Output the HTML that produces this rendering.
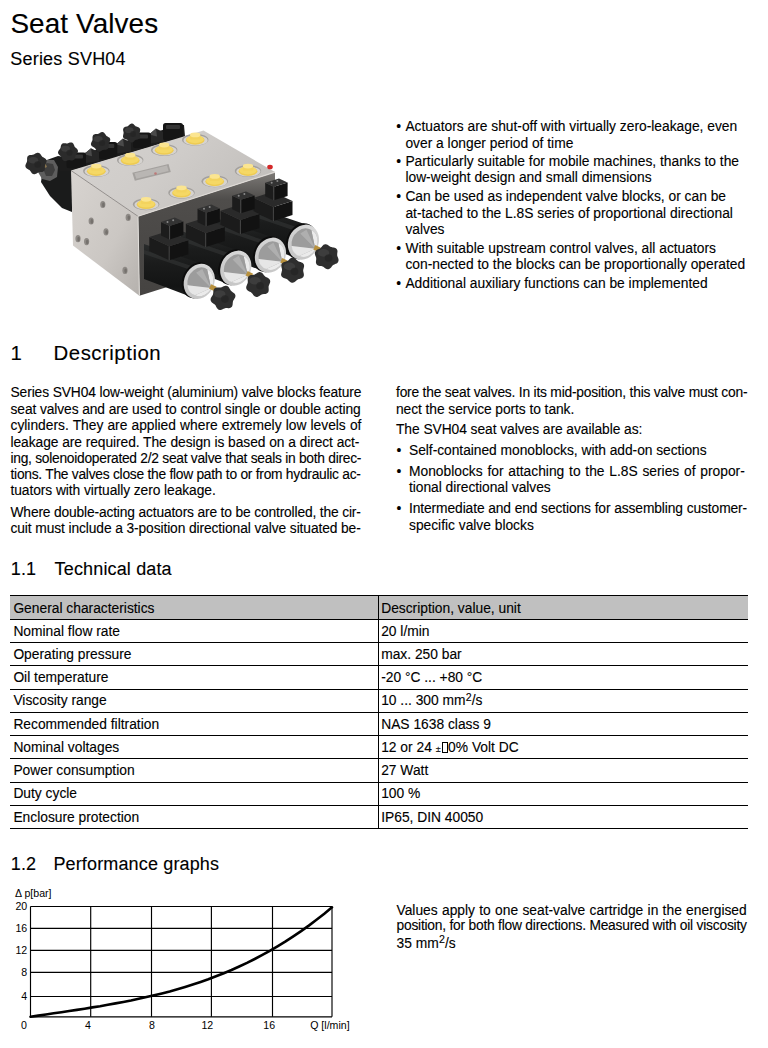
<!DOCTYPE html>
<html><head><meta charset="utf-8"><title>Seat Valves</title>
<style>
html,body{margin:0;padding:0;background:#fff;}
body{width:768px;height:1048px;position:relative;overflow:hidden;font-family:"Liberation Sans",sans-serif;color:#000;}
.l{position:absolute;white-space:nowrap;-webkit-text-stroke:0.12px #000;}
.sp{font-size:10.6px;line-height:0;vertical-align:4.6px;letter-spacing:0;margin-left:0.3px;}
.pm{font-size:9px;-webkit-text-stroke:0.1px #000;}
.bx{display:inline-block;width:4px;height:9px;border:1px solid #000;vertical-align:-1px;margin:0 0.5px 0 1px;-webkit-text-stroke:0;}
.hdr{position:absolute;background:#c0c0c0;}
.hl{position:absolute;height:1px;background:#000;}
.vl{position:absolute;width:1px;background:#000;}
</style></head><body>
<svg style="position:absolute;left:0;top:0" width="400" height="340">
<defs>
<linearGradient id="gTop" x1="0" y1="0" x2="1" y2="0.4"><stop offset="0" stop-color="#d6d3d0"/><stop offset="0.55" stop-color="#cfccc9"/><stop offset="1" stop-color="#c3c0bd"/></linearGradient>
<linearGradient id="gLeft" x1="0" y1="0" x2="1" y2="1"><stop offset="0" stop-color="#d8d4d0"/><stop offset="0.6" stop-color="#cbc7c3"/><stop offset="1" stop-color="#b5b1ad"/></linearGradient>
<linearGradient id="gFront" x1="0" y1="0" x2="0" y2="1"><stop offset="0" stop-color="#7d7a77"/><stop offset="0.22" stop-color="#4f4d4b"/><stop offset="1" stop-color="#454341"/></linearGradient>
<linearGradient id="gCoil" x1="0" y1="0" x2="0" y2="1"><stop offset="0" stop-color="#2a2c2c"/><stop offset="0.35" stop-color="#1b1c1c"/><stop offset="0.8" stop-color="#131414"/><stop offset="1" stop-color="#1e1f1f"/></linearGradient>
<linearGradient id="gCone" x1="0" y1="0" x2="0" y2="1"><stop offset="0" stop-color="#b0b0b0"/><stop offset="0.45" stop-color="#7a7a7a"/><stop offset="0.55" stop-color="#d8d8d8"/><stop offset="1" stop-color="#ececec"/></linearGradient>
<linearGradient id="gRing" x1="0" y1="0" x2="0" y2="1"><stop offset="0" stop-color="#d8d8d8"/><stop offset="1" stop-color="#c6c6c6"/></linearGradient>
<linearGradient id="gEnd" x1="0" y1="0" x2="1" y2="1"><stop offset="0" stop-color="#8a8a8a"/><stop offset="1" stop-color="#4a4a4a"/></linearGradient>
</defs>
<polygon points="44.0,161.0 58.0,156.0 72.0,158.0 72.0,212.0 62.0,208.0 50.0,196.0 41.0,182.0" fill="#1a1b1b"/>
<polygon points="38.0,165.0 45.0,160.0 54.0,160.0 58.0,167.0 57.0,177.0 50.0,181.0 42.0,179.0 38.0,172.0" fill="#5e5e5e"/>
<polygon points="42.0,166.0 47.0,163.0 53.0,164.0 55.0,170.0 52.0,176.0 46.0,176.0" fill="#3e3e3e"/>
<polygon points="35.0,160.0 43.0,158.0 47.0,167.0 40.0,170.0" fill="#8a7650"/>
<polygon points="45.9,163.5 45.6,164.1 45.3,164.7 45.1,165.3 44.9,165.9 44.9,166.5 44.9,167.2 44.9,167.9 44.9,168.7 44.8,169.4 44.6,170.1 44.3,170.7 43.8,171.3 43.1,171.6 42.4,171.9 41.7,172.0 41.0,172.1 40.2,172.1 39.6,172.2 39.0,172.3 38.4,172.4 37.8,172.7 37.3,173.1 36.7,173.5 36.0,173.8 35.3,174.1 34.6,174.3 33.9,174.3 33.2,174.1 32.5,173.8 31.9,173.3 31.5,172.7 31.0,172.1 30.7,171.5 30.3,170.9 29.9,170.5 29.5,170.0 28.9,169.7 28.3,169.4 27.7,169.0 27.1,168.7 26.5,168.2 26.0,167.7 25.6,167.0 25.4,166.3 25.4,165.6 25.5,164.9 25.8,164.2 26.1,163.5 26.4,162.9 26.7,162.3 26.9,161.7 27.1,161.1 27.1,160.5 27.1,159.8 27.1,159.1 27.1,158.3 27.2,157.6 27.4,156.9 27.7,156.3 28.2,155.7 28.9,155.4 29.6,155.1 30.3,155.0 31.0,154.9 31.8,154.9 32.4,154.8 33.0,154.7 33.6,154.6 34.2,154.3 34.7,153.9 35.3,153.5 36.0,153.2 36.7,152.9 37.4,152.7 38.1,152.7 38.8,152.9 39.5,153.2 40.1,153.7 40.5,154.3 41.0,154.9 41.3,155.5 41.7,156.1 42.1,156.5 42.5,157.0 43.1,157.3 43.7,157.6 44.3,158.0 44.9,158.3 45.5,158.8 46.0,159.3 46.4,160.0 46.6,160.7 46.6,161.4 46.5,162.1 46.2,162.8" fill="#2b2b2b"/>
<ellipse cx="33.2" cy="160.2" rx="5.0" ry="3.3" fill="#505050" opacity="0.45"/>
<circle cx="37.6" cy="164.6" r="3.3" fill="#242424" opacity="0.7"/>
<polygon points="60.0,171.0 60.0,158.0 90.0,151.8 180.0,124.7 184.0,125.0 185.0,136.6 71.0,171.0" fill="#1c1c1c"/>
<polygon points="84.0,154.2 91.0,148.2 99.0,152.2 99.0,161.2 84.0,163.2" fill="#262626"/>
<polygon points="84.0,154.2 91.0,148.2 92.0,156.2" fill="#4a4a4a"/>
<polygon points="116.0,144.5 123.0,138.5 131.0,142.5 131.0,151.5 116.0,153.5" fill="#262626"/>
<polygon points="116.0,144.5 123.0,138.5 124.0,146.5" fill="#4a4a4a"/>
<polygon points="149.0,134.6 156.0,128.6 164.0,132.6 164.0,141.6 149.0,143.6" fill="#262626"/>
<polygon points="149.0,134.6 156.0,128.6 157.0,136.6" fill="#4a4a4a"/>
<rect x="66.5" y="152.5" width="19.5" height="15.7" rx="2.5" fill="#151515"/>
<rect x="69.5" y="154.5" width="13.5" height="4" rx="1" fill="#3c3c3c" opacity="0.8"/>
<rect x="99" y="142" width="18.3" height="17.0" rx="2.5" fill="#151515"/>
<rect x="102" y="144" width="12.3" height="4" rx="1" fill="#3c3c3c" opacity="0.8"/>
<rect x="133" y="132.4" width="18.0" height="15.6" rx="2.5" fill="#151515"/>
<rect x="136" y="134.4" width="12.0" height="4" rx="1" fill="#3c3c3c" opacity="0.8"/>
<rect x="163" y="122.9" width="20.0" height="17.6" rx="2.5" fill="#151515"/>
<rect x="166" y="124.9" width="14.0" height="4" rx="1" fill="#3c3c3c" opacity="0.8"/>
<polygon points="77.9,151.8 77.6,152.4 77.3,153.0 76.9,153.6 76.5,154.1 76.1,154.5 75.8,155.0 75.5,155.5 75.4,156.1 75.3,156.7 75.2,157.3 75.0,158.0 74.8,158.6 74.5,159.2 74.1,159.7 73.5,160.1 72.9,160.3 72.3,160.4 71.6,160.4 70.9,160.4 70.3,160.3 69.7,160.2 69.1,160.1 68.6,160.2 68.0,160.3 67.4,160.5 66.8,160.8 66.2,161.0 65.5,161.1 64.8,161.1 64.2,161.0 63.6,160.8 63.1,160.3 62.6,159.8 62.3,159.2 62.0,158.6 61.8,158.0 61.6,157.4 61.3,156.9 61.0,156.5 60.6,156.1 60.1,155.7 59.6,155.3 59.1,154.8 58.7,154.3 58.3,153.7 58.1,153.1 58.0,152.5 58.1,151.8 58.4,151.2 58.7,150.6 59.1,150.0 59.5,149.5 59.9,149.1 60.2,148.6 60.5,148.1 60.6,147.5 60.7,146.9 60.8,146.3 61.0,145.6 61.2,145.0 61.5,144.4 61.9,143.9 62.5,143.5 63.1,143.3 63.7,143.2 64.4,143.2 65.1,143.2 65.7,143.3 66.3,143.4 66.9,143.5 67.4,143.4 68.0,143.3 68.6,143.1 69.2,142.8 69.8,142.6 70.5,142.5 71.2,142.5 71.8,142.6 72.4,142.8 72.9,143.3 73.4,143.8 73.7,144.4 74.0,145.0 74.2,145.6 74.4,146.2 74.7,146.7 75.0,147.1 75.4,147.5 75.9,147.9 76.4,148.3 76.9,148.8 77.3,149.3 77.7,149.9 77.9,150.5 78.0,151.1" fill="#2b2b2b"/>
<ellipse cx="65.5" cy="148.8" rx="4.5" ry="3.0" fill="#505050" opacity="0.45"/>
<circle cx="69.5" cy="152.8" r="3.0" fill="#242424" opacity="0.7"/>
<polygon points="109.6,141.9 109.3,142.5 109.0,143.0 108.8,143.5 108.7,144.1 108.7,144.6 108.7,145.3 108.7,145.9 108.7,146.6 108.6,147.3 108.4,147.9 108.1,148.5 107.7,149.0 107.1,149.3 106.5,149.5 105.8,149.7 105.1,149.7 104.5,149.7 103.9,149.8 103.3,149.9 102.8,150.0 102.3,150.3 101.7,150.6 101.2,151.0 100.6,151.3 100.0,151.5 99.3,151.7 98.7,151.7 98.0,151.5 97.4,151.2 96.9,150.8 96.5,150.3 96.1,149.7 95.7,149.2 95.4,148.7 95.1,148.2 94.6,147.9 94.2,147.5 93.6,147.2 93.1,146.9 92.5,146.6 91.9,146.2 91.5,145.7 91.1,145.1 91.0,144.5 90.9,143.8 91.1,143.2 91.3,142.5 91.6,141.9 91.9,141.3 92.2,140.8 92.4,140.3 92.5,139.7 92.5,139.2 92.5,138.5 92.5,137.9 92.5,137.2 92.6,136.5 92.8,135.9 93.1,135.3 93.5,134.8 94.1,134.5 94.7,134.3 95.4,134.1 96.1,134.1 96.7,134.1 97.3,134.0 97.9,133.9 98.4,133.8 98.9,133.5 99.5,133.2 100.0,132.8 100.6,132.5 101.2,132.3 101.9,132.1 102.5,132.1 103.2,132.3 103.8,132.6 104.3,133.0 104.7,133.5 105.1,134.1 105.5,134.6 105.8,135.1 106.1,135.6 106.6,135.9 107.0,136.3 107.6,136.6 108.1,136.9 108.7,137.2 109.3,137.6 109.7,138.1 110.1,138.7 110.2,139.3 110.3,140.0 110.1,140.6 109.9,141.3" fill="#2b2b2b"/>
<ellipse cx="98.1" cy="138.9" rx="4.5" ry="3.0" fill="#505050" opacity="0.45"/>
<circle cx="102.1" cy="142.9" r="3.0" fill="#242424" opacity="0.7"/>
<polygon points="139.6,133.1 139.6,133.6 139.7,134.2 139.8,134.7 139.9,135.3 140.1,136.0 140.1,136.6 140.0,137.3 139.8,137.8 139.5,138.4 139.0,138.8 138.5,139.1 137.9,139.4 137.2,139.5 136.6,139.7 136.1,139.8 135.6,140.0 135.1,140.3 134.7,140.6 134.3,141.0 133.8,141.4 133.3,141.9 132.8,142.2 132.2,142.5 131.6,142.6 131.0,142.6 130.4,142.4 129.8,142.1 129.3,141.6 128.9,141.2 128.4,140.8 128.0,140.4 127.6,140.0 127.2,139.8 126.6,139.6 126.1,139.4 125.5,139.2 124.9,139.0 124.3,138.7 123.8,138.3 123.4,137.8 123.1,137.3 123.0,136.7 123.0,136.0 123.1,135.4 123.2,134.8 123.4,134.2 123.5,133.6 123.6,133.1 123.6,132.6 123.5,132.0 123.4,131.5 123.3,130.9 123.1,130.2 123.1,129.6 123.2,128.9 123.4,128.4 123.7,127.8 124.2,127.4 124.7,127.1 125.3,126.8 126.0,126.7 126.6,126.5 127.1,126.4 127.6,126.2 128.1,125.9 128.5,125.6 128.9,125.2 129.4,124.8 129.9,124.3 130.4,124.0 131.0,123.7 131.6,123.6 132.2,123.6 132.8,123.8 133.4,124.1 133.9,124.6 134.3,125.0 134.8,125.4 135.2,125.8 135.6,126.2 136.0,126.4 136.6,126.6 137.1,126.8 137.7,127.0 138.3,127.2 138.9,127.5 139.4,127.9 139.8,128.4 140.1,128.9 140.2,129.5 140.2,130.2 140.1,130.8 140.0,131.4 139.8,132.0 139.7,132.6" fill="#2b2b2b"/>
<ellipse cx="129.2" cy="130.2" rx="4.3" ry="2.9" fill="#505050" opacity="0.45"/>
<circle cx="133.0" cy="134.0" r="2.9" fill="#242424" opacity="0.7"/>
<polygon points="138.0,216.3 275.0,172.1 275.0,253.0 139.4,295.7" fill="url(#gFront)"/>
<polygon points="71.0,170.5 138.0,216.3 139.4,295.7 73.0,245.6" fill="url(#gLeft)"/>
<polygon points="71.0,170.5 203.5,130.6 275.0,172.1 138.0,216.3" fill="url(#gTop)"/>
<line x1="71" y1="170.5" x2="138" y2="216.3" stroke="#8a8683" stroke-width="0.9"/>
<line x1="138" y1="216.3" x2="275" y2="172.1" stroke="#dedad6" stroke-width="1.2"/>
<line x1="138" y1="216.3" x2="139.4" y2="295.7" stroke="#e2dfdb" stroke-width="1"/>
<ellipse cx="102.8" cy="204.5" rx="2.6" ry="3.6" fill="#8e8a86"/>
<ellipse cx="103.39999999999999" cy="204.9" rx="1.3" ry="2.3" fill="#75716d"/>
<ellipse cx="91.2" cy="221" rx="2.6" ry="3.6" fill="#8e8a86"/>
<ellipse cx="91.8" cy="221.4" rx="1.3" ry="2.3" fill="#75716d"/>
<ellipse cx="128.2" cy="217.4" rx="2.6" ry="3.6" fill="#8e8a86"/>
<ellipse cx="128.79999999999998" cy="217.8" rx="1.3" ry="2.3" fill="#75716d"/>
<ellipse cx="106" cy="231.8" rx="2.6" ry="3.6" fill="#8e8a86"/>
<ellipse cx="106.6" cy="232.20000000000002" rx="1.3" ry="2.3" fill="#75716d"/>
<ellipse cx="78" cy="238.7" rx="2.6" ry="3.6" fill="#8e8a86"/>
<ellipse cx="78.6" cy="239.1" rx="1.3" ry="2.3" fill="#75716d"/>
<ellipse cx="86.6" cy="241.6" rx="2.6" ry="3.6" fill="#8e8a86"/>
<ellipse cx="87.19999999999999" cy="242.0" rx="1.3" ry="2.3" fill="#75716d"/>
<ellipse cx="125" cy="270.4" rx="2.6" ry="3.6" fill="#8e8a86"/>
<ellipse cx="125.6" cy="270.79999999999995" rx="1.3" ry="2.3" fill="#75716d"/>
<polygon points="132.3,172.8 168.5,164.0 170.8,172.0 134.8,180.8" fill="#a4a19e"/>
<polygon points="134.5,173.3 167.0,165.6 168.6,171.0 136.3,178.8" fill="#b9b6b3"/>
<circle cx="155.5" cy="173.5" r="1.3" fill="#c06060" opacity="0.7"/>
<ellipse cx="270" cy="167" rx="2.8" ry="2.3" fill="#d42828"/>
<ellipse cx="96.3" cy="171.0" rx="13.2" ry="6" fill="#a3a09d"/>
<ellipse cx="96.7" cy="171.6" rx="12" ry="5" fill="#d6d3d0"/>
<ellipse cx="96.3" cy="171.3" rx="9.4" ry="4.6" fill="#eecb52"/>
<ellipse cx="96.3" cy="170.5" rx="8.6" ry="3.9" fill="#f5d865"/>
<rect x="91.1" y="165.9" width="10.4" height="4.8" rx="1.5" fill="#f3d35e"/>
<ellipse cx="96.3" cy="166.1" rx="5.2" ry="2.4" fill="#fbe590"/>
<ellipse cx="130.2" cy="160.1" rx="13.2" ry="6" fill="#a3a09d"/>
<ellipse cx="130.6" cy="160.7" rx="12" ry="5" fill="#d6d3d0"/>
<ellipse cx="130.2" cy="160.4" rx="9.4" ry="4.6" fill="#eecb52"/>
<ellipse cx="130.2" cy="159.6" rx="8.6" ry="3.9" fill="#f5d865"/>
<rect x="125.0" y="155.0" width="10.4" height="4.8" rx="1.5" fill="#f3d35e"/>
<ellipse cx="130.2" cy="155.2" rx="5.2" ry="2.4" fill="#fbe590"/>
<ellipse cx="164.2" cy="149.9" rx="13.2" ry="6" fill="#a3a09d"/>
<ellipse cx="164.6" cy="150.5" rx="12" ry="5" fill="#d6d3d0"/>
<ellipse cx="164.2" cy="150.20000000000002" rx="9.4" ry="4.6" fill="#eecb52"/>
<ellipse cx="164.2" cy="149.4" rx="8.6" ry="3.9" fill="#f5d865"/>
<rect x="159.0" y="144.8" width="10.4" height="4.8" rx="1.5" fill="#f3d35e"/>
<ellipse cx="164.2" cy="145.0" rx="5.2" ry="2.4" fill="#fbe590"/>
<ellipse cx="195.2" cy="139.8" rx="13.2" ry="6" fill="#a3a09d"/>
<ellipse cx="195.6" cy="140.4" rx="12" ry="5" fill="#d6d3d0"/>
<ellipse cx="195.2" cy="140.10000000000002" rx="9.4" ry="4.6" fill="#eecb52"/>
<ellipse cx="195.2" cy="139.3" rx="8.6" ry="3.9" fill="#f5d865"/>
<rect x="190.0" y="134.7" width="10.4" height="4.8" rx="1.5" fill="#f3d35e"/>
<ellipse cx="195.2" cy="134.9" rx="5.2" ry="2.4" fill="#fbe590"/>
<ellipse cx="146.1" cy="204.2" rx="13.2" ry="6" fill="#a3a09d"/>
<ellipse cx="146.5" cy="204.79999999999998" rx="12" ry="5" fill="#d6d3d0"/>
<ellipse cx="146.1" cy="204.5" rx="9.4" ry="4.6" fill="#eecb52"/>
<ellipse cx="146.1" cy="203.7" rx="8.6" ry="3.9" fill="#f5d865"/>
<rect x="140.9" y="199.1" width="10.4" height="4.8" rx="1.5" fill="#f3d35e"/>
<ellipse cx="146.1" cy="199.3" rx="5.2" ry="2.4" fill="#fbe590"/>
<ellipse cx="181.5" cy="192.7" rx="13.2" ry="6" fill="#a3a09d"/>
<ellipse cx="181.9" cy="193.29999999999998" rx="12" ry="5" fill="#d6d3d0"/>
<ellipse cx="181.5" cy="193.0" rx="9.4" ry="4.6" fill="#eecb52"/>
<ellipse cx="181.5" cy="192.2" rx="8.6" ry="3.9" fill="#f5d865"/>
<rect x="176.3" y="187.6" width="10.4" height="4.8" rx="1.5" fill="#f3d35e"/>
<ellipse cx="181.5" cy="187.8" rx="5.2" ry="2.4" fill="#fbe590"/>
<ellipse cx="214.7" cy="181.3" rx="13.2" ry="6" fill="#a3a09d"/>
<ellipse cx="215.1" cy="181.9" rx="12" ry="5" fill="#d6d3d0"/>
<ellipse cx="214.7" cy="181.60000000000002" rx="9.4" ry="4.6" fill="#eecb52"/>
<ellipse cx="214.7" cy="180.8" rx="8.6" ry="3.9" fill="#f5d865"/>
<rect x="209.5" y="176.2" width="10.4" height="4.8" rx="1.5" fill="#f3d35e"/>
<ellipse cx="214.7" cy="176.4" rx="5.2" ry="2.4" fill="#fbe590"/>
<ellipse cx="248" cy="171.0" rx="13.2" ry="6" fill="#a3a09d"/>
<ellipse cx="248.4" cy="171.6" rx="12" ry="5" fill="#d6d3d0"/>
<ellipse cx="248" cy="171.3" rx="9.4" ry="4.6" fill="#eecb52"/>
<ellipse cx="248" cy="170.5" rx="8.6" ry="3.9" fill="#f5d865"/>
<rect x="242.8" y="165.9" width="10.4" height="4.8" rx="1.5" fill="#f3d35e"/>
<ellipse cx="248" cy="166.1" rx="5.2" ry="2.4" fill="#fbe590"/>
<polygon points="248.2,204.8 310.4,226.1 295.6,257.9 248.2,239.8" fill="url(#gCoil)"/>
<polygon points="248.2,210.8 308.4,231.1 307.4,235.1 248.2,214.8" fill="#343636" opacity="0.6"/>
<polygon points="253.5,197.8 273.4,207.1 273.4,221.1 253.5,211.8" fill="#1b1b1b"/>
<polygon points="273.4,207.1 292.5,201.0 292.5,215.0 273.4,221.1" fill="#121212"/>
<polygon points="253.5,197.8 272.5,191.7 292.5,201.0 273.4,207.1" fill="#2a2a2a"/>
<line x1="273.4" y1="207.1" x2="273.4" y2="221.1" stroke="#505050" stroke-width="0.8"/>
<polygon points="265.2,182.8 273.8,186.8 273.8,200.3 265.2,196.3" fill="#1c1c1c"/>
<polygon points="273.8,186.8 287.6,182.4 287.6,195.9 273.8,200.3" fill="#111111"/>
<polygon points="265.2,182.8 279.0,178.4 287.6,182.4 273.8,186.8" fill="#333333"/>
<line x1="273.8" y1="186.8" x2="273.8" y2="200.3" stroke="#5a5a5a" stroke-width="0.8"/>
<circle cx="271.7" cy="182.8" r="1" fill="#8a8a8a"/><circle cx="277.4" cy="181.0" r="1" fill="#8a8a8a"/>
<g transform="translate(303.0,242.0) rotate(25.0)"><ellipse cx="-2" cy="0" rx="14.5" ry="18.7" fill="#0c0c0c"/><ellipse cx="0.5" cy="0" rx="15" ry="18.1" fill="url(#gRing)"/><ellipse cx="2.5" cy="0" rx="11.8" ry="14.3" fill="#a6a6a6"/><path d="M2.5,-14.3 A11.8,14.3 0 0 1 2.5,14.3 L14,1 Z" fill="#ebebeb"/><path d="M2.5,-14.3 A11.8,14.3 0 0 0 -8.5,8.5 L14,1 Z" fill="#9c9c9c"/><path d="M-8.5,8.5 A11.8,14.3 0 0 0 2.5,14.3 L14,1 Z" fill="#e6e6e6"/><path d="M-2,-12.5 L14,1 L-6,-6.5 Z" fill="#b4b4b4" opacity="0.8"/><rect x="12.5" y="-2.4" width="6" height="4.8" fill="#b8913e"/></g>
<polygon points="337.6,256.7 337.9,257.4 338.2,258.2 338.4,259.0 338.6,259.9 338.5,260.7 338.3,261.5 337.9,262.2 337.4,262.9 336.7,263.4 335.9,263.8 335.1,264.1 334.4,264.4 333.7,264.7 333.1,265.1 332.6,265.6 332.1,266.1 331.6,266.7 331.1,267.4 330.5,268.0 329.9,268.6 329.1,269.0 328.3,269.2 327.5,269.2 326.7,269.0 325.9,268.7 325.2,268.2 324.5,267.7 323.9,267.2 323.3,266.8 322.6,266.5 322.0,266.3 321.3,266.1 320.5,266.0 319.7,265.9 318.8,265.7 318.0,265.4 317.3,265.0 316.7,264.4 316.3,263.7 316.0,262.9 315.9,262.0 316.0,261.1 316.1,260.3 316.2,259.5 316.2,258.8 316.2,258.1 316.1,257.4 315.8,256.7 315.5,256.0 315.2,255.2 315.0,254.4 314.8,253.5 314.9,252.7 315.1,251.9 315.5,251.2 316.0,250.5 316.7,250.0 317.5,249.6 318.3,249.3 319.0,249.0 319.7,248.7 320.3,248.3 320.8,247.8 321.3,247.3 321.8,246.7 322.3,246.0 322.9,245.4 323.5,244.8 324.3,244.4 325.1,244.2 325.9,244.2 326.7,244.4 327.5,244.7 328.2,245.2 328.9,245.7 329.5,246.2 330.1,246.6 330.8,246.9 331.4,247.1 332.1,247.3 332.9,247.4 333.7,247.5 334.6,247.7 335.4,248.0 336.1,248.4 336.7,249.0 337.1,249.7 337.4,250.5 337.5,251.4 337.4,252.3 337.3,253.1 337.2,253.9 337.2,254.6 337.2,255.3 337.3,256.0" fill="#2e2e2e"/>
<ellipse cx="323.6" cy="252.9" rx="5.7" ry="3.8" fill="#505050" opacity="0.45"/>
<circle cx="328.6" cy="258.0" r="3.8" fill="#242424" opacity="0.7"/>
<polygon points="215.2,217.8 277.4,239.1 262.6,270.9 215.2,252.8" fill="url(#gCoil)"/>
<polygon points="215.2,223.8 275.4,244.1 274.4,248.1 215.2,227.8" fill="#343636" opacity="0.6"/>
<polygon points="220.5,210.8 240.4,220.1 240.4,234.1 220.5,224.8" fill="#1b1b1b"/>
<polygon points="240.4,220.1 259.5,214.0 259.5,228.0 240.4,234.1" fill="#121212"/>
<polygon points="220.5,210.8 239.5,204.7 259.5,214.0 240.4,220.1" fill="#2a2a2a"/>
<line x1="240.4" y1="220.1" x2="240.4" y2="234.1" stroke="#505050" stroke-width="0.8"/>
<polygon points="232.2,195.8 240.8,199.8 240.8,213.3 232.2,209.3" fill="#1c1c1c"/>
<polygon points="240.8,199.8 254.6,195.4 254.6,208.9 240.8,213.3" fill="#111111"/>
<polygon points="232.2,195.8 246.0,191.4 254.6,195.4 240.8,199.8" fill="#333333"/>
<line x1="240.8" y1="199.8" x2="240.8" y2="213.3" stroke="#5a5a5a" stroke-width="0.8"/>
<circle cx="238.7" cy="195.8" r="1" fill="#8a8a8a"/><circle cx="244.4" cy="194.0" r="1" fill="#8a8a8a"/>
<g transform="translate(270.0,255.0) rotate(25.0)"><ellipse cx="-2" cy="0" rx="14.5" ry="18.7" fill="#0c0c0c"/><ellipse cx="0.5" cy="0" rx="15" ry="18.1" fill="url(#gRing)"/><ellipse cx="2.5" cy="0" rx="11.8" ry="14.3" fill="#a6a6a6"/><path d="M2.5,-14.3 A11.8,14.3 0 0 1 2.5,14.3 L14,1 Z" fill="#ebebeb"/><path d="M2.5,-14.3 A11.8,14.3 0 0 0 -8.5,8.5 L14,1 Z" fill="#9c9c9c"/><path d="M-8.5,8.5 A11.8,14.3 0 0 0 2.5,14.3 L14,1 Z" fill="#e6e6e6"/><path d="M-2,-12.5 L14,1 L-6,-6.5 Z" fill="#b4b4b4" opacity="0.8"/><rect x="12.5" y="-2.4" width="6" height="4.8" fill="#b8913e"/></g>
<polygon points="303.2,270.2 303.2,270.9 303.3,271.6 303.5,272.4 303.7,273.2 303.8,274.0 303.9,274.9 303.8,275.7 303.5,276.5 303.1,277.2 302.4,277.7 301.7,278.2 300.9,278.5 300.1,278.7 299.3,278.9 298.6,279.1 297.9,279.4 297.3,279.7 296.7,280.2 296.2,280.7 295.6,281.3 294.9,281.8 294.2,282.3 293.4,282.6 292.6,282.8 291.8,282.7 291.0,282.5 290.2,282.1 289.6,281.5 289.0,280.9 288.4,280.4 287.9,279.8 287.3,279.4 286.7,279.0 286.0,278.8 285.3,278.5 284.5,278.3 283.7,278.0 282.9,277.6 282.2,277.1 281.7,276.5 281.3,275.8 281.1,274.9 281.1,274.1 281.3,273.2 281.5,272.4 281.7,271.6 281.9,270.9 282.0,270.2 282.0,269.5 281.9,268.8 281.7,268.0 281.5,267.2 281.4,266.4 281.3,265.5 281.4,264.7 281.7,263.9 282.1,263.2 282.8,262.7 283.5,262.2 284.3,261.9 285.1,261.7 285.9,261.5 286.6,261.3 287.3,261.0 287.9,260.7 288.5,260.2 289.0,259.7 289.6,259.1 290.3,258.6 291.0,258.1 291.8,257.8 292.6,257.6 293.4,257.7 294.2,257.9 295.0,258.3 295.6,258.9 296.2,259.5 296.8,260.0 297.3,260.6 297.9,261.0 298.5,261.4 299.2,261.6 299.9,261.9 300.7,262.1 301.5,262.4 302.3,262.8 303.0,263.3 303.5,263.9 303.9,264.6 304.1,265.5 304.1,266.3 303.9,267.2 303.7,268.0 303.5,268.8 303.3,269.5" fill="#2e2e2e"/>
<ellipse cx="289.5" cy="266.4" rx="5.7" ry="3.8" fill="#505050" opacity="0.45"/>
<circle cx="294.5" cy="271.5" r="3.8" fill="#242424" opacity="0.7"/>
<polygon points="180.5,230.8 242.7,252.1 227.9,283.9 180.5,265.8" fill="url(#gCoil)"/>
<polygon points="180.5,236.8 240.7,257.1 239.7,261.1 180.5,240.8" fill="#343636" opacity="0.6"/>
<polygon points="185.8,223.8 205.7,233.1 205.7,247.1 185.8,237.8" fill="#1b1b1b"/>
<polygon points="205.7,233.1 224.8,227.0 224.8,241.0 205.7,247.1" fill="#121212"/>
<polygon points="185.8,223.8 204.8,217.7 224.8,227.0 205.7,233.1" fill="#2a2a2a"/>
<line x1="205.7" y1="233.1" x2="205.7" y2="247.1" stroke="#505050" stroke-width="0.8"/>
<polygon points="197.5,208.8 206.1,212.8 206.1,226.3 197.5,222.3" fill="#1c1c1c"/>
<polygon points="206.1,212.8 219.9,208.4 219.9,221.9 206.1,226.3" fill="#111111"/>
<polygon points="197.5,208.8 211.3,204.4 219.9,208.4 206.1,212.8" fill="#333333"/>
<line x1="206.1" y1="212.8" x2="206.1" y2="226.3" stroke="#5a5a5a" stroke-width="0.8"/>
<circle cx="204.0" cy="208.8" r="1" fill="#8a8a8a"/><circle cx="209.7" cy="207.0" r="1" fill="#8a8a8a"/>
<g transform="translate(235.3,268.0) rotate(25.0)"><ellipse cx="-2" cy="0" rx="14.5" ry="18.7" fill="#0c0c0c"/><ellipse cx="0.5" cy="0" rx="15" ry="18.1" fill="url(#gRing)"/><ellipse cx="2.5" cy="0" rx="11.8" ry="14.3" fill="#a6a6a6"/><path d="M2.5,-14.3 A11.8,14.3 0 0 1 2.5,14.3 L14,1 Z" fill="#ebebeb"/><path d="M2.5,-14.3 A11.8,14.3 0 0 0 -8.5,8.5 L14,1 Z" fill="#9c9c9c"/><path d="M-8.5,8.5 A11.8,14.3 0 0 0 2.5,14.3 L14,1 Z" fill="#e6e6e6"/><path d="M-2,-12.5 L14,1 L-6,-6.5 Z" fill="#b4b4b4" opacity="0.8"/><rect x="12.5" y="-2.4" width="6" height="4.8" fill="#b8913e"/></g>
<polygon points="269.3,284.5 269.0,285.2 268.7,285.9 268.6,286.6 268.6,287.3 268.6,288.0 268.7,288.8 268.7,289.7 268.7,290.6 268.5,291.4 268.2,292.2 267.7,292.8 267.0,293.3 266.2,293.7 265.4,293.9 264.6,294.0 263.7,294.1 263.0,294.2 262.3,294.3 261.6,294.5 261.0,294.9 260.3,295.3 259.7,295.7 259.0,296.2 258.2,296.6 257.4,296.9 256.6,297.0 255.7,296.8 255.0,296.5 254.3,296.1 253.7,295.4 253.1,294.8 252.7,294.1 252.2,293.5 251.7,292.9 251.2,292.5 250.6,292.1 249.9,291.7 249.2,291.4 248.4,291.0 247.7,290.6 247.1,290.0 246.6,289.3 246.3,288.5 246.2,287.7 246.2,286.9 246.5,286.0 246.8,285.2 247.1,284.5 247.4,283.8 247.7,283.1 247.8,282.4 247.8,281.7 247.8,281.0 247.7,280.2 247.7,279.3 247.7,278.4 247.9,277.6 248.2,276.8 248.7,276.2 249.4,275.7 250.2,275.3 251.0,275.1 251.8,275.0 252.7,274.9 253.4,274.8 254.1,274.7 254.8,274.5 255.4,274.1 256.1,273.7 256.7,273.3 257.4,272.8 258.2,272.4 259.0,272.1 259.8,272.0 260.7,272.2 261.4,272.5 262.1,272.9 262.7,273.6 263.3,274.2 263.7,274.9 264.2,275.5 264.7,276.1 265.2,276.5 265.8,276.9 266.5,277.3 267.2,277.6 268.0,278.0 268.7,278.4 269.3,279.0 269.8,279.7 270.1,280.5 270.2,281.3 270.2,282.1 269.9,283.0 269.6,283.8" fill="#2e2e2e"/>
<ellipse cx="255.0" cy="280.7" rx="5.7" ry="3.8" fill="#505050" opacity="0.45"/>
<circle cx="260.1" cy="285.8" r="3.8" fill="#242424" opacity="0.7"/>
<polygon points="144.0,244.0 206.2,265.3 191.4,297.1 144.0,279.0" fill="url(#gCoil)"/>
<polygon points="144.0,250.0 204.2,270.3 203.2,274.3 144.0,254.0" fill="#343636" opacity="0.6"/>
<polygon points="149.3,237.0 169.2,246.3 169.2,260.3 149.3,251.0" fill="#1b1b1b"/>
<polygon points="169.2,246.3 188.3,240.2 188.3,254.2 169.2,260.3" fill="#121212"/>
<polygon points="149.3,237.0 168.3,230.9 188.3,240.2 169.2,246.3" fill="#2a2a2a"/>
<line x1="169.2" y1="246.3" x2="169.2" y2="260.3" stroke="#505050" stroke-width="0.8"/>
<polygon points="161.0,222.0 169.6,226.0 169.6,239.5 161.0,235.5" fill="#1c1c1c"/>
<polygon points="169.6,226.0 183.4,221.6 183.4,235.1 169.6,239.5" fill="#111111"/>
<polygon points="161.0,222.0 174.8,217.6 183.4,221.6 169.6,226.0" fill="#333333"/>
<line x1="169.6" y1="226.0" x2="169.6" y2="239.5" stroke="#5a5a5a" stroke-width="0.8"/>
<circle cx="167.5" cy="222.0" r="1" fill="#8a8a8a"/><circle cx="173.2" cy="220.2" r="1" fill="#8a8a8a"/>
<g transform="translate(198.8,281.2) rotate(25.0)"><ellipse cx="-2" cy="0" rx="14.5" ry="18.7" fill="#0c0c0c"/><ellipse cx="0.5" cy="0" rx="15" ry="18.1" fill="url(#gRing)"/><ellipse cx="2.5" cy="0" rx="11.8" ry="14.3" fill="#a6a6a6"/><path d="M2.5,-14.3 A11.8,14.3 0 0 1 2.5,14.3 L14,1 Z" fill="#ebebeb"/><path d="M2.5,-14.3 A11.8,14.3 0 0 0 -8.5,8.5 L14,1 Z" fill="#9c9c9c"/><path d="M-8.5,8.5 A11.8,14.3 0 0 0 2.5,14.3 L14,1 Z" fill="#e6e6e6"/><path d="M-2,-12.5 L14,1 L-6,-6.5 Z" fill="#b4b4b4" opacity="0.8"/><rect x="12.5" y="-2.4" width="6" height="4.8" fill="#b8913e"/></g>
<polygon points="235.0,297.8 234.5,298.6 234.1,299.3 233.7,299.9 233.3,300.6 233.0,301.2 232.9,301.9 232.8,302.6 232.7,303.4 232.7,304.3 232.5,305.1 232.3,305.9 231.9,306.7 231.3,307.3 230.6,307.7 229.8,308.0 229.0,308.2 228.1,308.2 227.3,308.1 226.5,308.1 225.8,308.1 225.1,308.2 224.4,308.4 223.7,308.7 223.0,309.0 222.2,309.4 221.4,309.7 220.6,309.9 219.8,309.9 218.9,309.7 218.2,309.4 217.6,308.8 217.0,308.2 216.6,307.4 216.2,306.7 215.8,306.0 215.5,305.3 215.0,304.8 214.5,304.3 213.9,303.9 213.3,303.4 212.6,302.9 211.9,302.4 211.3,301.8 210.9,301.0 210.6,300.3 210.6,299.4 210.7,298.6 211.0,297.8 211.5,297.0 211.9,296.3 212.3,295.7 212.7,295.0 213.0,294.4 213.1,293.7 213.2,293.0 213.3,292.2 213.3,291.3 213.5,290.5 213.7,289.7 214.1,288.9 214.7,288.3 215.4,287.9 216.2,287.6 217.0,287.4 217.9,287.4 218.7,287.5 219.5,287.5 220.2,287.5 220.9,287.4 221.6,287.2 222.3,286.9 223.0,286.6 223.8,286.2 224.6,285.9 225.4,285.7 226.2,285.7 227.1,285.9 227.8,286.2 228.4,286.8 229.0,287.4 229.4,288.2 229.8,288.9 230.2,289.6 230.5,290.3 231.0,290.8 231.5,291.3 232.1,291.7 232.7,292.2 233.4,292.7 234.1,293.2 234.7,293.8 235.1,294.6 235.4,295.3 235.4,296.2 235.3,297.0" fill="#2e2e2e"/>
<ellipse cx="219.8" cy="294.0" rx="5.7" ry="3.8" fill="#505050" opacity="0.45"/>
<circle cx="224.9" cy="299.1" r="3.8" fill="#242424" opacity="0.7"/>
</svg>
<div class="l" id="L0" style="left:10.4px;top:9.78px;font-size:27.9px;line-height:27.9px;letter-spacing:0.1px;">Seat Valves</div>
<div class="l" id="L1" style="left:10.3px;top:50.06px;font-size:18.0px;line-height:18.0px;letter-spacing:0.2px;">Series SVH04</div>
<div class="l" id="L2" style="left:396.2px;top:119.52px;font-size:13.8px;line-height:13.8px;">&bull;</div>
<div class="l" id="L3" style="left:405.4px;top:119.52px;font-size:13.8px;line-height:13.8px;">Actuators are shut-off with virtually zero-leakage, even</div>
<div class="l" id="L4" style="left:405.4px;top:136.62px;font-size:13.8px;line-height:13.8px;">over a longer period of time</div>
<div class="l" id="L5" style="left:396.2px;top:154.62px;font-size:13.8px;line-height:13.8px;">&bull;</div>
<div class="l" id="L6" style="left:405.4px;top:154.62px;font-size:13.8px;line-height:13.8px;">Particularly suitable for mobile machines, thanks to the</div>
<div class="l" id="L7" style="left:405.4px;top:171.02px;font-size:13.8px;line-height:13.8px;">low-weight design and small dimensions</div>
<div class="l" id="L8" style="left:396.2px;top:190.02px;font-size:13.8px;line-height:13.8px;">&bull;</div>
<div class="l" id="L9" style="left:405.4px;top:190.02px;font-size:13.8px;line-height:13.8px;">Can be used as independent valve blocks, or can be</div>
<div class="l" id="L10" style="left:405.4px;top:206.52px;font-size:13.8px;line-height:13.8px;">at-tached to the L.8S series of proportional directional</div>
<div class="l" id="L11" style="left:405.4px;top:222.92px;font-size:13.8px;line-height:13.8px;">valves</div>
<div class="l" id="L12" style="left:396.2px;top:242.12px;font-size:13.8px;line-height:13.8px;">&bull;</div>
<div class="l" id="L13" style="left:405.4px;top:242.12px;font-size:13.8px;line-height:13.8px;">With suitable upstream control valves, all actuators</div>
<div class="l" id="L14" style="left:405.4px;top:257.82px;font-size:13.8px;line-height:13.8px;">con-nected to the blocks can be proportionally operated</div>
<div class="l" id="L15" style="left:396.2px;top:276.82px;font-size:13.8px;line-height:13.8px;">&bull;</div>
<div class="l" id="L16" style="left:405.4px;top:276.82px;font-size:13.8px;line-height:13.8px;">Additional auxiliary functions can be implemented</div>
<div class="l" id="L17" style="left:10.6px;top:342.93px;font-size:20.4px;line-height:20.4px;">1</div>
<div class="l" id="L18" style="left:53.6px;top:342.93px;font-size:20.4px;line-height:20.4px;letter-spacing:0.5px;">Description</div>
<div class="l" id="L19" style="left:10.5px;top:386.42px;font-size:13.8px;line-height:13.8px;word-spacing:0.000px;letter-spacing:-0.1149px;">Series SVH04 low-weight (aluminium) valve blocks feature</div>
<div class="l" id="L20" style="left:10.5px;top:402.80px;font-size:13.8px;line-height:13.8px;word-spacing:0.000px;letter-spacing:-0.0962px;">seat valves and are used to control single or double acting</div>
<div class="l" id="L21" style="left:10.5px;top:419.18px;font-size:13.8px;line-height:13.8px;word-spacing:0.278px;">cylinders. They are applied where extremely low levels of</div>
<div class="l" id="L22" style="left:10.5px;top:435.56px;font-size:13.8px;line-height:13.8px;word-spacing:0.000px;letter-spacing:-0.0630px;">leakage are required. The design is based on a direct act-</div>
<div class="l" id="L23" style="left:10.5px;top:451.94px;font-size:13.8px;line-height:13.8px;word-spacing:0.000px;letter-spacing:-0.2707px;">ing, solenoidoperated 2/2 seat valve that seals in both direc-</div>
<div class="l" id="L24" style="left:10.5px;top:468.32px;font-size:13.8px;line-height:13.8px;word-spacing:0.000px;letter-spacing:-0.2597px;">tions. The valves close the flow path to or from hydraulic ac-</div>
<div class="l" id="L25" style="left:10.5px;top:484.40px;font-size:13.8px;line-height:13.8px;word-spacing:0.000px;letter-spacing:-0.0731px;">tuators with virtually zero leakage.</div>
<div class="l" id="L26" style="left:10.5px;top:505.52px;font-size:13.8px;line-height:13.8px;word-spacing:0.000px;letter-spacing:-0.1582px;">Where double-acting actuators are to be controlled, the cir-</div>
<div class="l" id="L27" style="left:10.5px;top:521.82px;font-size:13.8px;line-height:13.8px;word-spacing:0.000px;letter-spacing:-0.1054px;">cuit must include a 3-position directional valve situated be-</div>
<div class="l" id="L28" style="left:396.0px;top:385.82px;font-size:13.8px;line-height:13.8px;word-spacing:0.000px;letter-spacing:-0.2038px;">fore the seat valves. In its mid-position, this valve must con-</div>
<div class="l" id="L29" style="left:396.0px;top:402.52px;font-size:13.8px;line-height:13.8px;word-spacing:0.000px;letter-spacing:-0.0652px;">nect the service ports to tank.</div>
<div class="l" id="L30" style="left:396.0px;top:423.12px;font-size:13.8px;line-height:13.8px;word-spacing:0.000px;letter-spacing:-0.0559px;">The SVH04 seat valves are available as:</div>
<div class="l" id="L31" style="left:396.5px;top:444.02px;font-size:13.8px;line-height:13.8px;">&bull;</div>
<div class="l" id="L32" style="left:409.0px;top:444.02px;font-size:13.8px;line-height:13.8px;word-spacing:0.000px;letter-spacing:-0.0320px;">Self-contained monoblocks, with add-on sections</div>
<div class="l" id="L33" style="left:396.5px;top:465.02px;font-size:13.8px;line-height:13.8px;">&bull;</div>
<div class="l" id="L34" style="left:409.0px;top:465.02px;font-size:13.8px;line-height:13.8px;word-spacing:0.944px;">Monoblocks for attaching to the L.8S series of propor-</div>
<div class="l" id="L35" style="left:409.0px;top:480.82px;font-size:13.8px;line-height:13.8px;word-spacing:0.000px;letter-spacing:-0.0384px;">tional directional valves</div>
<div class="l" id="L36" style="left:396.5px;top:501.82px;font-size:13.8px;line-height:13.8px;">&bull;</div>
<div class="l" id="L37" style="left:409.0px;top:501.82px;font-size:13.8px;line-height:13.8px;word-spacing:0.000px;letter-spacing:-0.1013px;">Intermediate and end sections for assembling customer-</div>
<div class="l" id="L38" style="left:409.0px;top:518.52px;font-size:13.8px;line-height:13.8px;word-spacing:0.000px;letter-spacing:-0.0094px;">specific valve blocks</div>
<div class="l" id="L39" style="left:10.8px;top:559.96px;font-size:18px;line-height:18px;letter-spacing:0.1px;">1.1</div>
<div class="l" id="L40" style="left:54.6px;top:559.96px;font-size:18px;line-height:18px;letter-spacing:0.15px;">Technical data</div>
<div class="hdr" style="left:10px;top:595.50px;width:738px;height:23.90px"></div>
<div class="hl" style="left:10px;top:595.00px;width:738px"></div>
<div class="hl" style="left:10px;top:618.90px;width:738px"></div>
<div class="hl" style="left:10px;top:642.14px;width:738px"></div>
<div class="hl" style="left:10px;top:665.39px;width:738px"></div>
<div class="hl" style="left:10px;top:688.63px;width:738px"></div>
<div class="hl" style="left:10px;top:711.88px;width:738px"></div>
<div class="hl" style="left:10px;top:735.12px;width:738px"></div>
<div class="hl" style="left:10px;top:758.37px;width:738px"></div>
<div class="hl" style="left:10px;top:781.61px;width:738px"></div>
<div class="hl" style="left:10px;top:804.86px;width:738px"></div>
<div class="hl" style="left:10px;top:828.10px;width:738px"></div>
<div class="vl" style="left:378px;top:595.50px;height:233.10px"></div>
<div class="l" id="L41" style="left:13.4px;top:601.72px;font-size:13.8px;line-height:13.8px;">General characteristics</div>
<div class="l" id="L42" style="left:381.2px;top:601.72px;font-size:13.8px;line-height:13.8px;">Description, value, unit</div>
<div class="l" id="L43" style="left:13.4px;top:624.56px;font-size:13.8px;line-height:13.8px;">Nominal flow rate</div>
<div class="l" id="L44" style="left:381.2px;top:624.56px;font-size:13.8px;line-height:13.8px;">20 l/min</div>
<div class="l" id="L45" style="left:13.4px;top:647.81px;font-size:13.8px;line-height:13.8px;">Operating pressure</div>
<div class="l" id="L46" style="left:381.2px;top:647.81px;font-size:13.8px;line-height:13.8px;">max. 250 bar</div>
<div class="l" id="L47" style="left:13.4px;top:671.05px;font-size:13.8px;line-height:13.8px;">Oil temperature</div>
<div class="l" id="L48" style="left:381.2px;top:671.05px;font-size:13.8px;line-height:13.8px;">-20 &deg;C ... +80 &deg;C</div>
<div class="l" id="L49" style="left:13.4px;top:694.30px;font-size:13.8px;line-height:13.8px;">Viscosity range</div>
<div class="l" id="L50" style="left:381.2px;top:694.30px;font-size:13.8px;line-height:13.8px;">10 ... 300 mm<span class=sp>2</span>/s</div>
<div class="l" id="L51" style="left:13.4px;top:717.54px;font-size:13.8px;line-height:13.8px;">Recommended filtration</div>
<div class="l" id="L52" style="left:381.2px;top:717.54px;font-size:13.8px;line-height:13.8px;">NAS 1638 class 9</div>
<div class="l" id="L53" style="left:13.4px;top:740.78px;font-size:13.8px;line-height:13.8px;">Nominal voltages</div>
<div class="l" id="L54" style="left:381.2px;top:740.78px;font-size:13.8px;line-height:13.8px;">12 or 24 <span class=pm>&plusmn;</span><span class=bx></span>0% Volt DC</div>
<div class="l" id="L55" style="left:13.4px;top:764.03px;font-size:13.8px;line-height:13.8px;">Power consumption</div>
<div class="l" id="L56" style="left:381.2px;top:764.03px;font-size:13.8px;line-height:13.8px;">27 Watt</div>
<div class="l" id="L57" style="left:13.4px;top:787.27px;font-size:13.8px;line-height:13.8px;">Duty cycle</div>
<div class="l" id="L58" style="left:381.2px;top:787.27px;font-size:13.8px;line-height:13.8px;">100 %</div>
<div class="l" id="L59" style="left:13.4px;top:810.52px;font-size:13.8px;line-height:13.8px;">Enclosure protection</div>
<div class="l" id="L60" style="left:381.2px;top:810.52px;font-size:13.8px;line-height:13.8px;">IP65, DIN 40050</div>
<div class="l" id="L61" style="left:10.8px;top:854.76px;font-size:18px;line-height:18px;letter-spacing:0.1px;">1.2</div>
<div class="l" id="L62" style="left:53.4px;top:854.76px;font-size:18px;line-height:18px;letter-spacing:0.15px;">Performance graphs</div>
<div class="l" id="L63" style="left:396.5px;top:903.52px;font-size:13.8px;line-height:13.8px;word-spacing:0.474px;">Values apply to one seat-valve cartridge in the energised</div>
<div class="l" id="L64" style="left:396.5px;top:919.12px;font-size:13.8px;line-height:13.8px;word-spacing:0.000px;letter-spacing:-0.2231px;">position, for both flow directions. Measured with oil viscosity</div>
<div class="l" id="L65" style="left:396.5px;top:936.52px;font-size:13.8px;line-height:13.8px;">35 mm<span class=sp>2</span>/s</div>

<svg style="position:absolute;left:0;top:0" width="768" height="1048">
<g stroke="#000" stroke-width="1.15" shape-rendering="geometricPrecision"><line x1="30.5" y1="906.5" x2="332.0" y2="906.5"/><line x1="30.5" y1="928.4" x2="332.0" y2="928.4"/><line x1="30.5" y1="950.3" x2="332.0" y2="950.3"/><line x1="30.5" y1="972.4" x2="332.0" y2="972.4"/><line x1="30.5" y1="996.5" x2="332.0" y2="996.5"/><line x1="30.5" y1="1016.8" x2="332.0" y2="1016.8"/><line x1="30.5" y1="906.5" x2="30.5" y2="1016.8"/><line x1="90.7" y1="906.5" x2="90.7" y2="1016.8"/><line x1="151.5" y1="906.5" x2="151.5" y2="1016.8"/><line x1="211.4" y1="906.5" x2="211.4" y2="1016.8"/><line x1="272.5" y1="906.5" x2="272.5" y2="1016.8"/><line x1="332.0" y1="906.5" x2="332.0" y2="1016.8"/></g>
<path d="M30.5,1016.8 L38.2,1015.6 L46.0,1014.5 L53.7,1013.3 L61.4,1012.2 L69.2,1011.0 L76.9,1009.9 L84.6,1008.7 L92.3,1007.4 L100.1,1006.2 L107.8,1004.8 L115.5,1003.4 L123.3,1002.0 L131.0,1000.5 L138.7,998.8 L146.5,997.1 L154.2,995.3 L161.9,993.4 L169.7,991.4 L177.4,989.2 L185.1,986.9 L192.8,984.5 L200.6,981.9 L208.3,979.2 L216.0,976.3 L223.8,973.2 L231.5,970.0 L239.2,966.5 L247.0,962.9 L254.7,959.0 L262.4,954.9 L270.2,950.7 L277.9,946.1 L285.6,941.4 L293.3,936.4 L301.1,931.1 L308.8,925.6 L316.5,919.8 L324.3,913.7 L332.0,907.3" fill="none" stroke="#000" stroke-width="2.6" stroke-linecap="round"/>
<g font-family="Liberation Sans" font-size="10.6" fill="#000"><text x="15.0" y="896.8" text-anchor="start">&#916; p[bar]</text><text x="27.2" y="910.3" text-anchor="end">20</text><text x="27.2" y="932.1999999999999" text-anchor="end">16</text><text x="27.2" y="954.0999999999999" text-anchor="end">12</text><text x="27.2" y="976.1999999999999" text-anchor="end">8</text><text x="27.2" y="1000.3" text-anchor="end">4</text><text x="21.0" y="1028.8" text-anchor="start">0</text><text x="87.95" y="1028.8" text-anchor="middle">4</text><text x="151.9" y="1028.8" text-anchor="middle">8</text><text x="207.3" y="1028.8" text-anchor="middle">12</text><text x="269.25" y="1028.8" text-anchor="middle">16</text><text x="310.2" y="1028.8" text-anchor="start">Q [l/min]</text></g>
</svg>
</body></html>
